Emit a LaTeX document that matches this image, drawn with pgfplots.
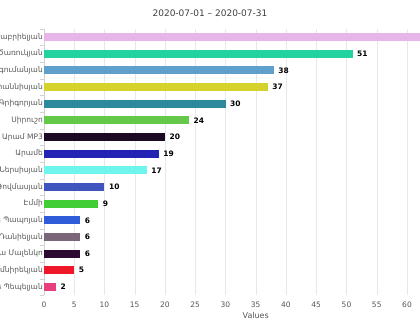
\documentclass[border=0pt]{standalone}
\usepackage{pgfplots}
\pgfplotsset{compat=1.18}
\usepackage{fontspec}
\setmainfont{DejaVu Sans}
\definecolor{c1}{HTML}{E7B5E7}
\definecolor{c2}{HTML}{22D3A0}
\definecolor{c3}{HTML}{5E9FCB}
\definecolor{c4}{HTML}{D5D22B}
\definecolor{c5}{HTML}{2D8A9C}
\definecolor{c6}{HTML}{66C84A}
\definecolor{c7}{HTML}{1C0A24}
\definecolor{c8}{HTML}{2424B4}
\definecolor{c9}{HTML}{6EF5EE}
\definecolor{c10}{HTML}{3F55BD}
\definecolor{c11}{HTML}{42CC36}
\definecolor{c12}{HTML}{2F5CD9}
\definecolor{c13}{HTML}{7B6679}
\definecolor{c14}{HTML}{2B0B30}
\definecolor{c15}{HTML}{F0162A}
\definecolor{c16}{HTML}{E7407E}
\definecolor{txt}{HTML}{555555}
\begin{document}
\begin{tikzpicture}
\useasboundingbox (0pt,0pt) rectangle (420pt,330pt);
\begin{pgfinterruptboundingbox}
\clip (0pt,0pt) rectangle (420pt,330pt);
\node[font=\fontsize{9}{10}\selectfont, text=black!75] at (210pt,317pt) {2020-07-01 – 2020-07-31};
\begin{axis}[
  at={(44pt,34.7pt)}, anchor=south west,
  scale only axis, width=423.5pt, height=266.7pt,
  xmin=0, xmax=70, ymin=-0.5, ymax=15.5, y dir=reverse,
  xbar, bar width=8pt, bar shift=0pt,
  axis lines*=left,
  x axis line style={draw=none},
  y axis line style={draw=gray!35},
  xtick={0,5,...,60},
  extra x ticks={65,70}, extra x tick labels={},
  extra x tick style={grid=major},
  xmajorgrids, grid style={gray!18},
  ytick={0,...,15},
  yticklabels={Ռուզաննա Գաբրիելյան, Գագիկ Ծառուկյան, Լիլիթ Ագումանյան, Լիլիթ Հովհաննիսյան, Սոնա Գրիգորյան, Սիրուշո, Արամ MP3, Արամե, Սիլվա Ներսիսյան, Արփի Թովմասյան, Էմմի, Սերգեյ Պապոյան, Արտյոմ Դանիելյան, Աննա Մալենկո, Լուսինե Ամնիրեկյան, Արմինե Պեպելյան},
  minor ytick={-0.5,0.5,...,15.5},
  tick align=outside,
  major tick length=0pt,
  minor tick length=4pt,
  minor tick style={draw=gray!35},
  yticklabel style={font=\fontsize{7.5}{9}\selectfont, text=txt, inner sep=1pt},
  xticklabel style={font=\fontsize{7.5}{9}\selectfont, text=txt, yshift=-3pt},
  /pgf/number format/assume math mode=true,
  xlabel={Values},
  xlabel style={font=\fontsize{8}{9}\selectfont, text=txt, yshift=2pt},
  nodes near coords,
  nodes near coords style={font=\bfseries\fontsize{7.5}{9}\selectfont, text=black, anchor=west, xshift=1pt},
  every axis plot/.append style={draw=none},
]
\addplot[fill=c1] coordinates {(68,0)};
\addplot[fill=c2] coordinates {(51,1)};
\addplot[fill=c3] coordinates {(38,2)};
\addplot[fill=c4] coordinates {(37,3)};
\addplot[fill=c5] coordinates {(30,4)};
\addplot[fill=c6] coordinates {(24,5)};
\addplot[fill=c7] coordinates {(20,6)};
\addplot[fill=c8] coordinates {(19,7)};
\addplot[fill=c9] coordinates {(17,8)};
\addplot[fill=c10] coordinates {(10,9)};
\addplot[fill=c11] coordinates {(9,10)};
\addplot[fill=c12] coordinates {(6,11)};
\addplot[fill=c13] coordinates {(6,12)};
\addplot[fill=c14] coordinates {(6,13)};
\addplot[fill=c15] coordinates {(5,14)};
\addplot[fill=c16] coordinates {(2,15)};
\end{axis}
\end{pgfinterruptboundingbox}
\end{tikzpicture}
\end{document}
